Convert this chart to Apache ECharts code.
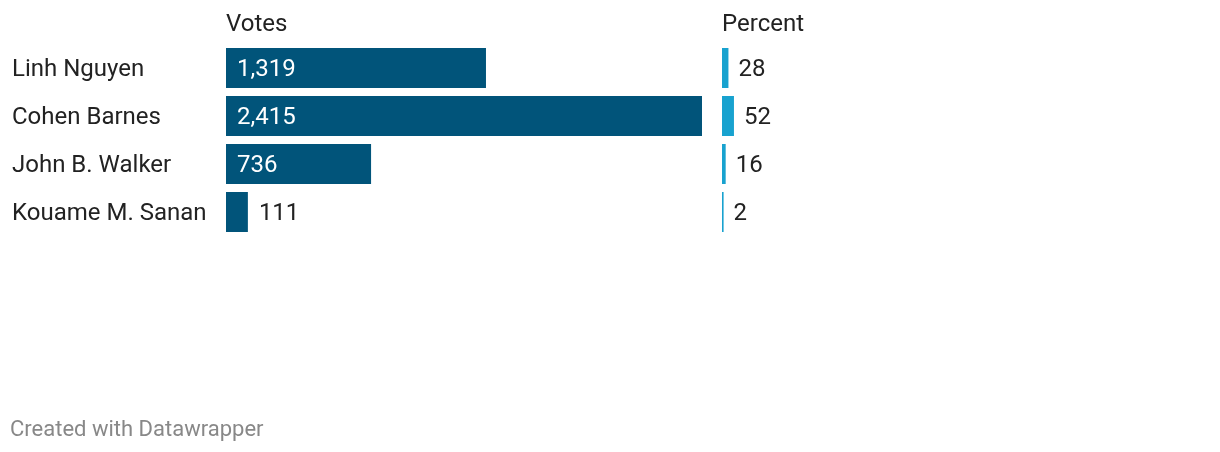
<!DOCTYPE html>
<html><head><meta charset="utf-8">
<script src="https://cdn.jsdelivr.net/npm/echarts@6/dist/echarts.min.js"></script>
<style>html,body{margin:0;padding:0;background:#fff}#c{width:1220px;height:452px}</style>
</head><body><div id="c"></div>
<script>
const candidates = ["Linh Nguyen", "Cohen Barnes", "John B. Walker", "Kouame M. Sanan"];
const votes = [1319, 2415, 736, 111];
const percent = [28, 52, 16, 2];
const headers = ["Votes", "Percent"];
const footer = "Created with Datawrapper";

const FONT = "Roboto";
const FS = 24;
const chart = echarts.init(document.getElementById('c'), null, {renderer: 'canvas'});
const maxVotes = Math.max(...votes);
const fmt = v => v.toLocaleString('en-US');

chart.setOption({
  animation: false,
  grid: [
    {left: 226, top: 44, width: 476, height: 192},
    {left: 722, top: 44, width: 23, height: 192}
  ],
  xAxis: [
    {gridIndex: 0, type: 'value', min: 0, max: maxVotes, show: false},
    {gridIndex: 1, type: 'value', min: 0, max: 100, show: false}
  ],
  yAxis: [
    {gridIndex: 0, type: 'category', data: candidates, inverse: true,
     axisLine: {show: false}, axisTick: {show: false}, splitLine: {show: false},
     axisLabel: {align: 'left', margin: 214, formatter: v => '{n|' + v + '}',
       rich: {n: {fontFamily: FONT, fontSize: FS, color: '#222', padding: [4, 0, 0, 0]}}}},
    {gridIndex: 1, type: 'category', data: candidates, inverse: true, show: false}
  ],
  series: [
    {type: 'bar', xAxisIndex: 0, yAxisIndex: 0, barWidth: 40,
     itemStyle: {color: '#01547a'},
     data: votes.map(v => {
       const inside = v / maxVotes * 476 > 70;
       return {value: v, label: {show: true, position: inside ? 'insideLeft' : 'right',
         distance: 11, color: inside ? '#fff' : '#222', offset: [0, 2],
         fontFamily: FONT, fontSize: FS, formatter: p => fmt(p.value)}};
     })},
    {type: 'bar', xAxisIndex: 1, yAxisIndex: 1, barWidth: 40, barMinHeight: 1.6,
     itemStyle: {color: '#18a2cf'},
     label: {show: true, position: 'right', distance: 10, color: '#222', fontFamily: FONT, fontSize: FS, offset: [0, 2]},
     data: percent}
  ],
  graphic: [
    {type: 'text', left: 226, top: 13, style: {text: headers[0], font: FS + 'px Roboto', fill: '#222'}},
    {type: 'text', left: 722, top: 13, style: {text: headers[1], font: FS + 'px Roboto', fill: '#222'}},
    {type: 'text', left: 10, top: 419, style: {text: footer, font: '22px Roboto', fill: '#888'}}
  ]
});
</script></body></html>
